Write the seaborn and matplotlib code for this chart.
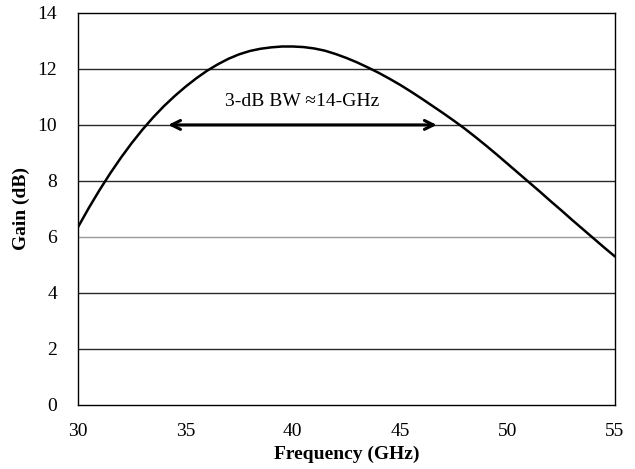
import matplotlib
matplotlib.use('Agg')
from matplotlib import pyplot as plt
import pandas as pd
import seaborn as sns

# values
freq = [30, 30.5, 31, 31.5, 32, 32.5, 33, 33.5, 34, 34.5, 35, 35.5, 36, 36.5, 37, 37.5,
        38, 38.5, 39, 39.5, 40, 40.5, 41, 41.5, 42, 42.5, 43, 43.5, 44, 44.5, 45, 45.5,
        46, 46.5, 47, 47.5, 48, 48.5, 49, 49.5, 50, 50.5, 51, 51.5, 52, 52.5, 53, 53.5,
        54, 54.5, 55]
gain = [6.35, 7.03, 7.67, 8.27, 8.83, 9.35, 9.83, 10.27, 10.67, 11.03, 11.36, 11.66, 11.93, 12.16, 12.36, 12.52,
        12.64, 12.72, 12.77, 12.8, 12.8, 12.78, 12.73, 12.65, 12.53, 12.39, 12.23, 12.05, 11.86, 11.65, 11.43, 11.19,
        10.94, 10.68, 10.42, 10.15, 9.87, 9.57, 9.26, 8.94, 8.61, 8.28, 7.95, 7.62, 7.28, 6.95, 6.61, 6.28,
        5.95, 5.62, 5.3]
x_ticks = [30, 35, 40, 45, 50, 55]
y_ticks = [0, 2, 4, 6, 8, 10, 12, 14]
bw_start, bw_end, bw_level = 34.2, 46.7, 10
bw_label = '3-dB BW \u224814-GHz'

df = pd.DataFrame({'Frequency': freq, 'Gain': gain})

sns.set_style('white')
plt.rcParams['font.family'] = ['Liberation Serif', 'DejaVu Serif']
plt.rcParams['text.color'] = 'black'
plt.rcParams['axes.labelcolor'] = 'black'
plt.rcParams['xtick.color'] = 'black'
plt.rcParams['ytick.color'] = 'black'

fig = plt.figure(figsize=(6.35, 4.69), dpi=100)
ax = fig.add_axes([0.1228, 0.1365, 0.8457, 0.836])

# horizontal grid lines (the 6 dB one is lighter in the original)
for y in y_ticks[1:-1]:
    ax.axhline(y, color='#9a9a9a' if y == 6 else '#2a2a2a', lw=1.0, zorder=1)

sns.lineplot(data=df, x='Frequency', y='Gain', color='black', lw=1.8, ax=ax, zorder=3)

ax.annotate('', xy=(bw_start, bw_level), xytext=(bw_end, bw_level),
            arrowprops=dict(arrowstyle='<->', color='black', lw=2.2,
                            mutation_scale=16, shrinkA=0, shrinkB=0), zorder=4)
ax.text((bw_start + bw_end) / 2, 10.85, bw_label, ha='center', va='center', fontsize=14)

ax.set_xlim(30, 55)
ax.set_ylim(0, 14)
ax.set_xticks(x_ticks)
ax.set_yticks(y_ticks)
ax.tick_params(axis='x', direction='in', length=5, width=1, labelsize=14, pad=13)
ax.tick_params(axis='y', direction='out', length=3, width=1, labelsize=14, pad=12)
for s in ax.spines.values():
    s.set_color('black')
    s.set_linewidth(1.0)

ax.set_xlabel('Frequency (GHz)', fontsize=14, fontweight='bold', labelpad=4)
ax.set_ylabel('Gain (dB)', fontsize=14, fontweight='bold', labelpad=5)

fig.savefig('out.png', dpi=100)
